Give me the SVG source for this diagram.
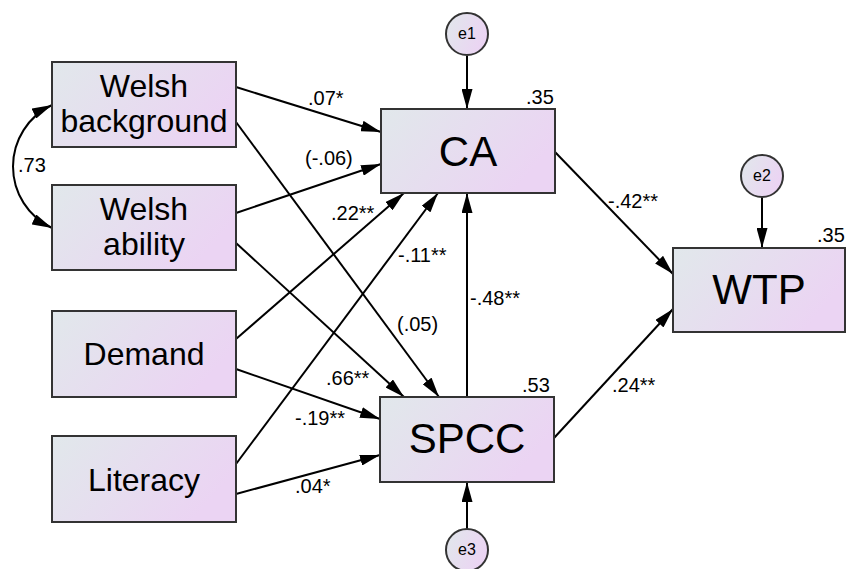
<svg xmlns="http://www.w3.org/2000/svg" width="846" height="569" viewBox="0 0 846 569">
<defs>
<linearGradient id="g" x1="0" y1="0" x2="1" y2="0.4">
<stop offset="0" stop-color="#e1e8eb"/>
<stop offset="1" stop-color="#ebd4f3"/>
</linearGradient>
<marker id="ah" markerUnits="userSpaceOnUse" markerWidth="20" markerHeight="11" refX="20" refY="5.5" orient="auto-start-reverse">
<path d="M0,0 L20,5.5 L0,11 z" fill="#000"/>
</marker>
<style>
.box{fill:url(#g);stroke:#333;stroke-width:2}
.c{fill:url(#g);stroke:#333;stroke-width:2}
.t1{font-family:"Liberation Sans",Arial,sans-serif;font-size:32px;text-anchor:middle;fill:#000}
.t2{font-family:"Liberation Sans",Arial,sans-serif;font-size:42px;text-anchor:middle;fill:#000}
.te{font-family:"Liberation Sans",Arial,sans-serif;font-size:16px;text-anchor:middle;fill:#000}
.lb{font-family:"Liberation Sans",Arial,sans-serif;font-size:20px;fill:#000}
.ln{fill:none;stroke:#000;stroke-width:2;marker-end:url(#ah)}
</style>
</defs>
<g id="connectors">
<path class="ln" d="M236,87 L381,132"/>
<path class="ln" d="M236,122 L439,397"/>
<path class="ln" d="M236,213 L381,164"/>
<path class="ln" d="M236,243 L404,397"/>
<path class="ln" d="M236,339 L404,193"/>
<path class="ln" d="M236,369 L380,419"/>
<path class="ln" d="M236,464 L438,193"/>
<path class="ln" d="M236,494 L380,455"/>
<path class="ln" d="M467,397 L467,193"/>
<path class="ln" d="M467,56 L467,109"/>
<path class="ln" d="M467,529 L467,482"/>
<path class="ln" d="M762,197 L762,248"/>
<path class="ln" d="M555,152 L673,274"/>
<path class="ln" d="M554,438 L673,309"/>
<path class="ln" d="M52,105 A68,68 0 0 0 52,228" style="marker-start:url(#ah)"/>
</g>
<g id="labels">
<text class="lb" x="308" y="105">.07*</text>
<text class="lb" x="305" y="165">(-.06)</text>
<text class="lb" x="331" y="220">.22**</text>
<text class="lb" x="526" y="104">.35</text>
<text class="lb" x="398" y="262">-.11**</text>
<text class="lb" x="470" y="305">-.48**</text>
<text class="lb" x="397" y="331">(.05)</text>
<text class="lb" x="326" y="385">.66**</text>
<text class="lb" x="295" y="425">-.19**</text>
<text class="lb" x="295" y="493">.04*</text>
<text class="lb" x="522" y="392">.53</text>
<text class="lb" x="608" y="208">-.42**</text>
<text class="lb" x="612" y="392">.24**</text>
<text class="lb" x="817" y="242">.35</text>
<text class="lb" x="18" y="172">.73</text>
</g>
<g id="welsh-background">
<rect class="box" x="52" y="62" width="184" height="85"/>
<text class="t1" x="144" y="97">Welsh</text>
<text class="t1" x="144" y="132">background</text>
</g>
<g id="welsh-ability">
<rect class="box" x="52" y="185" width="184" height="85"/>
<text class="t1" x="144" y="220">Welsh</text>
<text class="t1" x="144" y="255">ability</text>
</g>
<g id="demand">
<rect class="box" x="52" y="311" width="184" height="86"/>
<text class="t1" x="144" y="365">Demand</text>
</g>
<g id="literacy">
<rect class="box" x="52" y="436" width="184" height="86"/>
<text class="t1" x="144" y="491">Literacy</text>
</g>
<g id="ca">
<rect class="box" x="381" y="109" width="174" height="84"/>
<text class="t2" x="468" y="166">CA</text>
</g>
<g id="spcc">
<rect class="box" x="380" y="397" width="174" height="85"/>
<text class="t2" x="467" y="453">SPCC</text>
</g>
<g id="wtp">
<rect class="box" x="673" y="248" width="172" height="84"/>
<text class="t2" x="759" y="304">WTP</text>
</g>
<g id="e1">
<circle class="c" cx="467" cy="34" r="21"/>
<text class="te" x="467" y="39">e1</text>
</g>
<g id="e2">
<circle class="c" cx="762" cy="176" r="21"/>
<text class="te" x="762" y="181">e2</text>
</g>
<g id="e3">
<circle class="c" cx="467" cy="550" r="21"/>
<text class="te" x="467" y="555">e3</text>
</g>
</svg>
